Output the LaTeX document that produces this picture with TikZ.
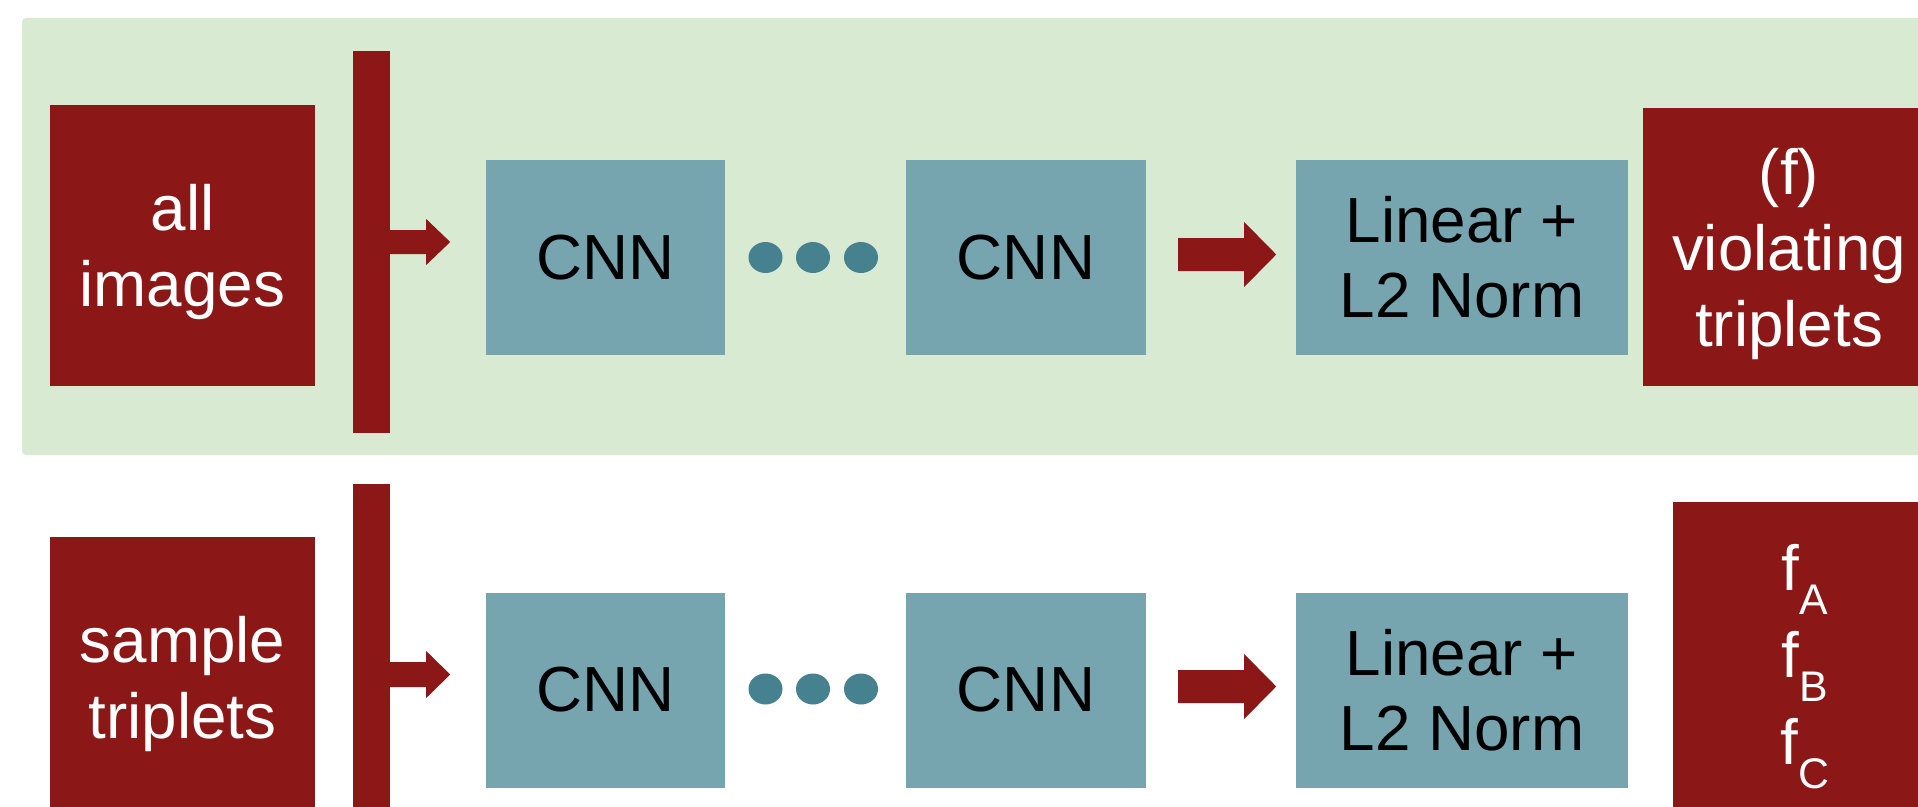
\documentclass[tikz,border=0pt]{standalone}
\usepackage{fontspec}
\setmainfont{Liberation Sans}
\usetikzlibrary{calc,shapes.geometric}

\definecolor{panelgreen}{HTML}{D9EAD3}
\definecolor{blockred}{HTML}{8B1717}
\definecolor{cnnblue}{HTML}{76A5AF}
\definecolor{dotteal}{HTML}{45818E}

\tikzset{
  redbox/.style={rectangle, fill=blockred, draw=none, inner sep=0pt},
  bluebox/.style={rectangle, fill=cnnblue, draw=none, inner sep=0pt,
    minimum height=195bp, text=black, align=center,
    font=\fontsize{64}{75.5}\selectfont},
  whitetext/.style={text=white, align=center, inner sep=0pt,
    font=\fontsize{64}{76}\selectfont},
  dotnode/.style={ellipse, fill=dotteal, draw=none, inner sep=0pt,
    minimum width=34bp, minimum height=31bp},
}

% block arrow: start coordinate, total length, shaft half-height, head half-height, head length
\newcommand\blockarrow[5]{%
  \fill[blockred] (#1) ++(0,-#3) -- ++({#2-#5},0) -- ++(0,{-(#4-#3)})
    -- ++(#5,#4) -- ++(-#5,#4) -- ++(0,{-(#4-#3)}) -- ++({-(#2-#5)},0) -- cycle;}

\newcommand\subf[1]{f\raisebox{-24bp}{\fontsize{43}{43}\selectfont #1}}

\begin{document}
\begin{tikzpicture}[x=1bp, y=-1bp]
  \path[use as bounding box, clip] (0,0) rectangle (1918,807);

  % upper panel
  \fill[panelgreen, rounded corners=4bp] (22,18) rectangle (1960,455);

  % ---- upper row ----
  \node[redbox, minimum width=265bp, minimum height=281bp] (allimg) at (182.5,245.5) {};
  \node[whitetext] (allimgtxt) at (182.5,252.3) {all\\images};
  \node[redbox, minimum width=37bp, minimum height=382bp] (bar1) at (371.5,242) {};
  \node[bluebox, minimum width=239bp] (cnnA1) at (605.5,257.5) {CNN};
  \node[dotnode] (dA1) at (765.5,257.5) {};
  \node[dotnode] (dA2) at (813,257.5) {};
  \node[dotnode] (dA3) at (861,257.5) {};
  \node[bluebox, minimum width=240bp] (cnnA2) at (1026,257.5) {CNN};
  \node[bluebox, minimum width=332bp] (linA) at (1462,257.5) {Linear +\\L2 Norm};
  \node[redbox, minimum width=292bp, minimum height=278bp] (viol) at (1789,247) {};
  \node[whitetext] (violtxt) at (1789,254) {(f)\\violating\\triplets};

  \coordinate (aA1) at (bar1.east);
  \blockarrow{aA1}{60}{12}{23}{24}
  \coordinate (aA2) at ($(cnnA2.east)+(32,-3)$);
  \blockarrow{aA2}{98}{16.5}{32.5}{32}

  % ---- lower row ----
  \node[redbox, minimum width=265bp, minimum height=281bp] (samp) at (182.5,677.5) {};
  \node[whitetext] (samptxt) at (182.5,683.8) {sample\\triplets};
  \node[redbox, minimum width=37bp, minimum height=382bp] (bar2) at (371.5,674.5) {};
  \node[bluebox, minimum width=239bp] (cnnB1) at (605.5,690) {CNN};
  \node[dotnode] (dB1) at (765.5,689) {};
  \node[dotnode] (dB2) at (813,689) {};
  \node[dotnode] (dB3) at (861,689) {};
  \node[bluebox, minimum width=240bp] (cnnB2) at (1026,690) {CNN};
  \node[bluebox, minimum width=332bp] (linB) at (1462,690) {Linear +\\L2 Norm};
  \node[redbox, minimum width=264bp, minimum height=360bp] (feat) at (1805,682) {};
  \node[whitetext, font=\fontsize{64}{87.5}\selectfont] (feattxt) at (1805,666.5)
    {\subf{A}\\\subf{B}\\\subf{C}};

  \coordinate (aB1) at (bar2.east);
  \blockarrow{aB1}{60}{12.5}{23.5}{24}
  \coordinate (aB2) at ($(cnnB2.east)+(32,-3.5)$);
  \blockarrow{aB2}{98}{16.5}{32.5}{32}
\end{tikzpicture}
\end{document}
